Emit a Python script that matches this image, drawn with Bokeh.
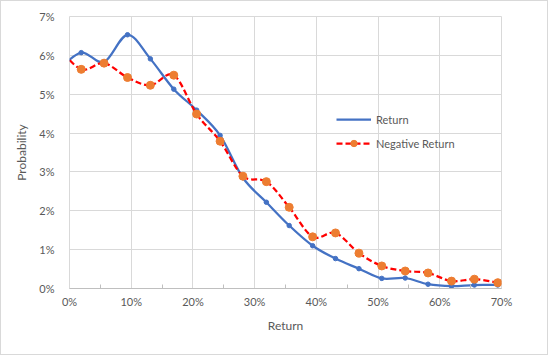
import numpy as np
from bokeh.plotting import figure
from bokeh.models import (Range1d, FixedTicker, NumeralTickFormatter, Legend,
                          LegendItem, ColumnDataSource)
from bokeh.embed import file_html
from bokeh.resources import INLINE

# ---- data (fractions) ----
returns_x = [-0.019, 0.019, 0.056, 0.094, 0.131, 0.169, 0.206, 0.244, 0.281,
             0.319, 0.356, 0.394, 0.431, 0.469, 0.506, 0.544, 0.581, 0.619,
             0.656, 0.694]
return_prob = [0.0562, 0.0607, 0.0583, 0.0653, 0.0591, 0.0513, 0.0459, 0.0394,
               0.0285, 0.0222, 0.0162, 0.0110, 0.0077, 0.0051, 0.0026, 0.0027,
               0.0011, 0.0006, 0.0009, 0.0009]
neg_return_prob = [0.0622, 0.0564, 0.0580, 0.0543, 0.0523, 0.0549, 0.0449,
                   0.0379, 0.0289, 0.0275, 0.0209, 0.0133, 0.0143, 0.0091,
                   0.0058, 0.0045, 0.0040, 0.0019, 0.0024, 0.0015]
x_ticks = [0.0, 0.1, 0.2, 0.3, 0.4, 0.5, 0.6, 0.7]
x_minor = [0.05, 0.15, 0.25, 0.35, 0.45, 0.55, 0.65]
y_ticks = [0.0, 0.01, 0.02, 0.03, 0.04, 0.05, 0.06, 0.07]

TEXT = "#595959"
FONT = "Lato"


def bezier_source(xs, ys):
    xs = np.asarray(xs, float)
    ys = np.asarray(ys, float)
    n = len(xs)
    xp = np.concatenate([[xs[0]], xs, [xs[-1]]])
    yp = np.concatenate([[ys[0]], ys, [ys[-1]]])
    cx0 = xp[1:n] + (xp[2:n + 1] - xp[0:n - 1]) / 6
    cy0 = yp[1:n] + (yp[2:n + 1] - yp[0:n - 1]) / 6
    cx1 = xp[2:n + 1] - (xp[3:n + 2] - xp[1:n]) / 6
    cy1 = yp[2:n + 1] - (yp[3:n + 2] - yp[1:n]) / 6
    return ColumnDataSource(dict(x0=xs[:-1], y0=ys[:-1], x1=xs[1:], y1=ys[1:],
                                 cx0=cx0, cy0=cy0, cx1=cx1, cy1=cy1))


p = figure(width=548, height=355, x_range=Range1d(0, 0.7),
           y_range=Range1d(0, 0.07), output_backend="svg",
           toolbar_location=None, min_border_left=68, min_border_right=48,
           min_border_top=15, min_border_bottom=68)
p.styles = {"border": "1px solid #D9D9D9"}
p.background_fill_color = "white"
p.border_fill_color = "white"
p.outline_line_color = "#D9D9D9"

p.xgrid.ticker = FixedTicker(ticks=x_ticks)
p.ygrid.ticker = FixedTicker(ticks=y_ticks)
p.xgrid.grid_line_color = "#D9D9D9"
p.ygrid.grid_line_color = "#D9D9D9"

xa = p.xaxis[0]
xa.ticker = FixedTicker(ticks=x_ticks, minor_ticks=x_minor)
xa.formatter = NumeralTickFormatter(format="0%")
xa.axis_line_color = "#BFBFBF"
xa.major_tick_in = 0
xa.major_tick_out = 0
xa.minor_tick_in = 4
xa.minor_tick_out = 0
xa.minor_tick_line_color = "#BFBFBF"
xa.major_label_standoff = 6
xa.axis_label = "Return"
xa.axis_label_standoff = 7

ya = p.yaxis[0]
ya.ticker = FixedTicker(ticks=y_ticks)
ya.formatter = NumeralTickFormatter(format="0%")
ya.axis_line_color = None
ya.major_tick_line_color = None
ya.minor_tick_line_color = None
ya.major_label_standoff = 9
ya.axis_label = "Probability"
ya.axis_label_standoff = 7

for ax in (xa, ya):
    ax.major_label_text_font = FONT
    ax.major_label_text_font_size = "11px"
    ax.major_label_text_color = TEXT
    ax.axis_label_text_font = FONT
    ax.axis_label_text_font_size = "12px"
    ax.axis_label_text_color = TEXT
    ax.axis_label_text_font_style = "normal"

BLUE = "#4472C4"
RED = "#FF0000"
ORANGE = "#ED7D31"

r_blue_line = p.bezier(x0="x0", y0="y0", x1="x1", y1="y1", cx0="cx0",
                       cy0="cy0", cx1="cx1", cy1="cy1",
                       source=bezier_source(returns_x, return_prob),
                       line_color=BLUE, line_width=2.25)
r_blue_pts = p.scatter(returns_x, return_prob, marker="circle", size=4.5,
                       fill_color=BLUE, line_color=BLUE)

r_red_line = p.bezier(x0="x0", y0="y0", x1="x1", y1="y1", cx0="cx0",
                      cy0="cy0", cx1="cx1", cy1="cy1",
                      source=bezier_source(returns_x, neg_return_prob),
                      line_color=RED, line_width=2.25, line_dash="6 3")
r_red_pts = p.scatter(returns_x, neg_return_prob, marker="circle", size=8,
                      fill_color=ORANGE, line_color=ORANGE)

legend = Legend(items=[LegendItem(label="Return", renderers=[r_blue_line]),
                       LegendItem(label="Negative Return", renderers=[r_red_line, r_red_pts])],
                location=(267, 137), border_line_color=None,
                background_fill_alpha=0, padding=0, margin=0,
                glyph_width=35, glyph_height=16, label_height=16, spacing=8,
                label_standoff=5, label_text_font=FONT,
                label_text_font_size="11px", label_text_color=TEXT)
p.add_layout(legend)

open("out.html", "w").write(file_html(p, INLINE))
